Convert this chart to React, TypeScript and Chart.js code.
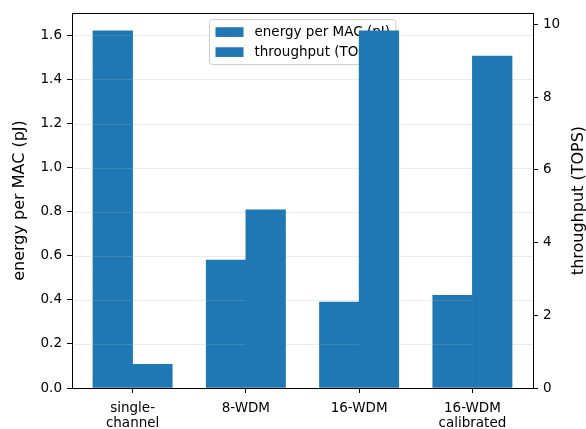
import React, { useEffect, useRef } from "react";
import { Chart, registerables } from "chart.js";

Chart.register(...registerables);

const categories: string[][] = [["single-", "channel"], ["8-WDM"], ["16-WDM"], ["16-WDM", "calibrated"]];
const energyPJ = [1.62, 0.58, 0.39, 0.42];
const throughputTOPS = [0.65, 4.9, 9.82, 9.13];
const energyTicks = [0, 0.2, 0.4, 0.6, 0.8, 1.0, 1.2, 1.4, 1.6];
const throughputTicks = [0, 2, 4, 6, 8, 10];
const legendLabels = ["energy per MAC (pJ)", "throughput (TOPS)"];
const leftTitle = "energy per MAC (pJ)";
const rightTitle = "throughput (TOPS)";

const BAR_W = 0.35;
const BLUE = "#1f77b4";
const FONT = "'DejaVu Sans', sans-serif";
const FS = 13.5;
const TITLE_FS = 16;

const overlay = {
  id: "overlay",
  afterDatasetDraw(chart: any, args: any) {
    if (args.index !== 0) return;
    const ctx = chart.ctx;
    const area = chart.chartArea;
    const y = chart.scales.yE;
    ctx.save();
    ctx.strokeStyle = "rgba(176,176,176,0.3)";
    ctx.lineWidth = 0.8;
    for (const t of energyTicks) {
      if (t === 0) continue;
      const py = Math.round(y.getPixelForValue(t)) + 0.5;
      ctx.beginPath();
      ctx.moveTo(area.left, py);
      ctx.lineTo(area.right, py);
      ctx.stroke();
    }
    // legend (upper center)
    ctx.font = `${FS}px ${FONT}`;
    const tw = Math.max(...legendLabels.map((l) => ctx.measureText(l).width));
    const patchW = 28, patchH = 9.7, pad = 6, gap = 11, rowH = 20;
    const w = pad + patchW + gap + tw + pad;
    const h = 45;
    const cx = (area.left + area.right) / 2;
    const x0 = Math.round(cx - w / 2) + 0.5;
    const y0 = area.top + 6.5;
    ctx.beginPath();
    const r = 3;
    ctx.moveTo(x0 + r, y0);
    ctx.lineTo(x0 + w - r, y0);
    ctx.arcTo(x0 + w, y0, x0 + w, y0 + r, r);
    ctx.lineTo(x0 + w, y0 + h - r);
    ctx.arcTo(x0 + w, y0 + h, x0 + w - r, y0 + h, r);
    ctx.lineTo(x0 + r, y0 + h);
    ctx.arcTo(x0, y0 + h, x0, y0 + h - r, r);
    ctx.lineTo(x0, y0 + r);
    ctx.arcTo(x0, y0, x0 + r, y0, r);
    ctx.closePath();
    ctx.fillStyle = "rgba(255,255,255,0.8)";
    ctx.fill();
    ctx.strokeStyle = "#cccccc";
    ctx.lineWidth = 1;
    ctx.stroke();
    legendLabels.forEach((lab, i) => {
      const cy = y0 + 12.5 + i * rowH;
      ctx.fillStyle = BLUE;
      ctx.fillRect(x0 + pad, cy - patchH / 2, patchW, patchH);
      ctx.fillStyle = "#000";
      ctx.textBaseline = "middle";
      ctx.textAlign = "left";
      ctx.fillText(lab, x0 + pad + patchW + gap, cy + 0.5);
    });
    ctx.restore();
  },
  afterDraw(chart: any) {
    const ctx = chart.ctx;
    const area = chart.chartArea;
    ctx.save();
    ctx.strokeStyle = "#000";
    ctx.lineWidth = 1;
    ctx.beginPath();
    ctx.moveTo(area.left, Math.round(area.top) + 0.5);
    ctx.lineTo(area.right, Math.round(area.top) + 0.5);
    ctx.stroke();
    ctx.font = `${TITLE_FS}px ${FONT}`;
    ctx.fillStyle = "#000";
    ctx.textAlign = "center";
    ctx.textBaseline = "middle";
    const cy = (area.top + area.bottom) / 2;
    ctx.save();
    ctx.translate(20, cy);
    ctx.rotate(-Math.PI / 2);
    ctx.fillText(leftTitle, 0, 0);
    ctx.restore();
    ctx.save();
    ctx.translate(579, cy);
    ctx.rotate(-Math.PI / 2);
    ctx.fillText(rightTitle, 0, 0);
    ctx.restore();
    ctx.restore();
  },
};

export default function App() {
  const ref = useRef<HTMLCanvasElement>(null);
  useEffect(() => {
    if (!ref.current) return;
    const chart = new Chart(ref.current, {
      type: "bar",
      data: {
        datasets: [
          {
            label: legendLabels[0],
            data: energyPJ.map((v, i) => ({ x: i - BAR_W / 2, y: v })),
            backgroundColor: BLUE,
            borderWidth: 0,
            yAxisID: "yE",
            order: 1,
            grouped: false,
            categoryPercentage: 1,
            barPercentage: 1,
          } as any,
          {
            label: legendLabels[1],
            data: throughputTOPS.map((v, i) => ({ x: i + BAR_W / 2, y: v })),
            backgroundColor: BLUE,
            borderWidth: 0,
            yAxisID: "yT",
            order: 0,
            grouped: false,
            categoryPercentage: 1,
            barPercentage: 1,
          } as any,
        ],
      },
      options: {
        animation: false,
        responsive: false,
        layout: { padding: { top: 13, left: 0, right: 0, bottom: 0 } },
        plugins: { legend: { display: false }, tooltip: { enabled: false } },
        scales: {
          x: {
            type: "linear",
            offset: false,
            min: -0.535,
            max: 3.535,
            afterBuildTicks: (s: any) => {
              s.ticks = categories.map((_, i) => ({ value: i }));
            },
            afterFit: (s: any) => {
              s.height = 41;
            },
            ticks: {
              callback: (v: any) => categories[Math.round(v)],
              color: "#000",
              font: { family: FONT, size: FS, lineHeight: 1.12 },
              padding: 8,
              maxRotation: 0,
              autoSkip: false,
            },
            grid: { offset: false, drawOnChartArea: false, tickLength: 5, tickColor: "#000", tickWidth: 1 },
            border: { color: "#000", width: 1 },
          },
          yE: {
            type: "linear",
            position: "left",
            min: 0,
            max: 1.701,
            afterBuildTicks: (s: any) => {
              s.ticks = energyTicks.map((v) => ({ value: v }));
            },
            afterFit: (s: any) => {
              s.width = 72;
            },
            ticks: {
              callback: (v: any) => Number(v).toFixed(1),
              color: "#000",
              font: { family: FONT, size: FS },
              padding: 5,
            },
            grid: { drawOnChartArea: false, tickLength: 5, tickColor: "#000", tickWidth: 1 },
            border: { color: "#000", width: 1 },
          },
          yT: {
            type: "linear",
            position: "right",
            min: 0,
            max: 10.31,
            afterBuildTicks: (s: any) => {
              s.ticks = throughputTicks.map((v) => ({ value: v }));
            },
            afterFit: (s: any) => {
              s.width = 53;
            },
            ticks: {
              callback: (v: any) => String(v),
              color: "#000",
              font: { family: FONT, size: FS },
              padding: 5,
            },
            grid: { drawOnChartArea: false, tickLength: 5, tickColor: "#000", tickWidth: 1 },
            border: { color: "#000", width: 1 },
          },
        },
      } as any,
      plugins: [overlay],
    });
    return () => chart.destroy();
  }, []);
  return (
    <div style={{ position: "fixed", left: 0, top: 0, width: 586, height: 429, background: "#fff" }}>
      <canvas ref={ref} width={586} height={429} style={{ width: 586, height: 429 }} />
    </div>
  );
}
